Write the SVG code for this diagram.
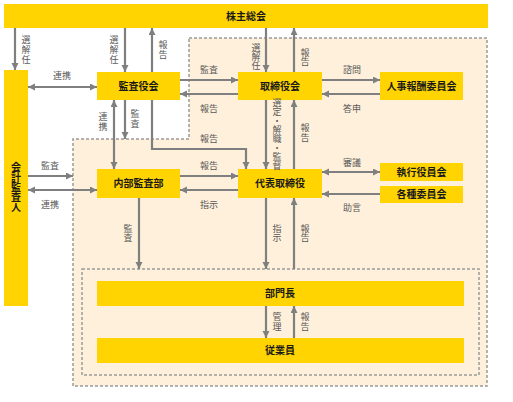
<svg xmlns="http://www.w3.org/2000/svg" width="513" height="402" viewBox="0 0 513 402">
<style>
.node{fill:#FFD400}
.nt{font-family:"Noto Sans CJK JP","Noto Sans",sans-serif;font-size:10px;font-weight:bold;fill:#1a1a1a;text-anchor:middle}
.lb{font-family:"Noto Sans CJK JP","Noto Sans",sans-serif;font-size:9px;fill:#595959;text-anchor:middle}
.v{writing-mode:vertical-rl;text-orientation:upright}
.c{fill:none;stroke:#7F7F7F;stroke-width:2.2}
.e{marker-end:url(#ah)}
.b{marker-start:url(#ah);marker-end:url(#ah)}
.dash{fill:#FEF0DB;stroke:#9A9A9A;stroke-width:1.5;stroke-dasharray:3 2}
</style>
<defs>
<marker id="ah" markerUnits="userSpaceOnUse" markerWidth="8" markerHeight="8" refX="7" refY="3.5" orient="auto-start-reverse">
<path d="M0,0 L7,3.5 L0,7 z" fill="#7F7F7F"/>
</marker>
</defs>
<rect width="513" height="402" fill="#FFFFFF"/>
<g id="regions">
<path class="dash" d="M189,38 H487 V386 H73 V139 H189 Z"/>
<rect class="dash" x="82" y="269" width="397" height="106"/>
</g>
<g id="kabunushi"><rect class="node" x="4" y="4" width="484" height="24"/><text class="nt" x="246" y="19.5">株主総会</text></g>
<g id="kaikei"><rect class="node" x="4" y="70" width="24" height="236"/><text class="nt v" x="16" y="187">会計監査人</text></g>
<g id="kansayakukai"><rect class="node" x="97" y="72" width="83" height="28"/><text class="nt" x="138.5" y="89.5">監査役会</text></g>
<g id="torishimariyakukai"><rect class="node" x="238" y="72" width="84" height="28"/><text class="nt" x="280" y="89.5">取締役会</text></g>
<g id="jinji"><rect class="node" x="380" y="72" width="83" height="28"/><text class="nt" x="421.5" y="89.5">人事報酬委員会</text></g>
<g id="naibu"><rect class="node" x="97" y="169" width="83" height="29"/><text class="nt" x="138.5" y="187">内部監査部</text></g>
<g id="daihyo"><rect class="node" x="238" y="169" width="84" height="29"/><text class="nt" x="280" y="187">代表取締役</text></g>
<g id="shikko"><rect class="node" x="380" y="163" width="83" height="18"/><text class="nt" x="421.5" y="175.5">執行役員会</text></g>
<g id="kakushu"><rect class="node" x="380" y="186" width="83" height="17"/><text class="nt" x="421.5" y="198">各種委員会</text></g>
<g id="bumoncho"><rect class="node" x="97" y="281" width="367" height="25"/><text class="nt" x="280" y="297">部門長</text></g>
<g id="jugyoin"><rect class="node" x="97" y="338" width="367" height="25"/><text class="nt" x="280" y="354">従業員</text></g>
<g id="connectors">
<path class="c e" d="M15,28 V70"/>
<path class="c e" d="M125,28 V72"/>
<path class="c e" d="M152,72 V28"/>
<path class="c e" d="M266,28 V72"/>
<path class="c e" d="M294,72 V28"/>
<path class="c e" d="M180,80 H238"/>
<path class="c e" d="M238,94 H180"/>
<path class="c e" d="M322,80 H380"/>
<path class="c e" d="M380,94 H322"/>
<path class="c b" d="M28,87 H97"/>
<path class="c b" d="M114,100 V169"/>
<path class="c e" d="M125,100 V139"/>
<path class="c e" d="M152,100 V149 H246 V169"/>
<path class="c e" d="M28,176 H73"/>
<path class="c b" d="M28,190 H97"/>
<path class="c e" d="M180,176 H238"/>
<path class="c e" d="M238,190 H180"/>
<path class="c e" d="M139,198 V269"/>
<path class="c e" d="M266,100 V169"/>
<path class="c e" d="M294,169 V100"/>
<path class="c b" d="M322,172 H380"/>
<path class="c e" d="M380,194 H322"/>
<path class="c e" d="M266,198 V269"/>
<path class="c e" d="M294,269 V198"/>
<path class="c e" d="M266,306 V338"/>
<path class="c e" d="M294,338 V306"/>
</g>
<g id="labels">
<text class="lb v" x="26" y="50" letter-spacing="1">選解任</text>
<text class="lb v" x="114" y="50" letter-spacing="1">選解任</text>
<text class="lb v" x="163" y="50" letter-spacing="1">報告</text>
<text class="lb v" x="256" y="56.5">選解任</text>
<text class="lb v" x="305" y="57.5">報告</text>
<text class="lb" x="62" y="79">連携</text>
<text class="lb" x="209" y="72.5">監査</text>
<text class="lb" x="209" y="111.5">報告</text>
<text class="lb" x="352" y="72.5">諮問</text>
<text class="lb" x="352" y="111.5">答申</text>
<text class="lb v" x="103" y="122.5" letter-spacing="1">連携</text>
<text class="lb v" x="135" y="119" letter-spacing="1">監査</text>
<text class="lb" x="209" y="141.5">報告</text>
<text class="lb v" x="277" y="134" font-size="8">選定・解職・監督</text>
<text class="lb v" x="305" y="133" letter-spacing="1">報告</text>
<text class="lb" x="50" y="168.5">監査</text>
<text class="lb" x="50" y="207.5">連携</text>
<text class="lb" x="209" y="168.5">報告</text>
<text class="lb" x="209" y="207.5">指示</text>
<text class="lb" x="352" y="165.5">審議</text>
<text class="lb" x="352" y="210.5">助言</text>
<text class="lb v" x="128" y="233.5">監査</text>
<text class="lb v" x="277" y="233.5">指示</text>
<text class="lb v" x="305" y="233.5">報告</text>
<text class="lb v" x="277" y="322" letter-spacing="1">管理</text>
<text class="lb v" x="305" y="322" letter-spacing="1">報告</text>
</g>
</svg>
